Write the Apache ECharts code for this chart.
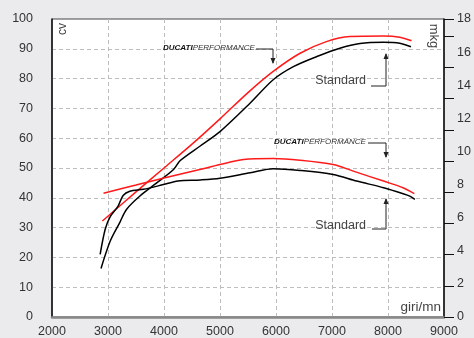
<!DOCTYPE html>
<html>
<head>
<meta charset="utf-8">
<script src="https://cdn.jsdelivr.net/npm/echarts@6/dist/echarts.min.js"></script>
<style>
  html, body { margin: 0; padding: 0; background: #ebebed; }
  #chart { width: 474px; height: 338px; }
</style>
</head>
<body>
<div id="chart"></div>
<script>
// rpm ticks and axis ranges
const rpmTicks = [2000, 3000, 4000, 5000, 6000, 7000, 8000, 9000];
const cvTicks = [0, 10, 20, 30, 40, 50, 60, 70, 80, 90, 100];
const mkgTicks = [0, 2, 4, 6, 8, 10, 12, 14, 16, 18];

// power (cv) - [rpm, cv]
const perfPower = [[2900, 32.2], [3500, 42], [4000, 50], [4500, 58], [5000, 66.5], [5500, 75.3],
    [5950, 82.4], [6430, 88.5], [6900, 92.4], [7320, 94.1], [7920, 94.3], [8210, 93.9], [8420, 92.7]];
const stdPower = [[2875, 16.3], [3040, 25.5], [3210, 31.7], [3330, 36.1], [3570, 40.6], [3870, 45], [4170, 49.5],
    [4290, 52.5], [4640, 57.3], [5000, 62.2], [5540, 71.8], [5950, 79.6], [6310, 84],
    [6730, 87.4], [7140, 90.2], [7500, 91.8], [7920, 92.2], [8210, 91.9], [8410, 90.7]];

// torque (mkg) - [rpm, mkg]
const perfTorque = [[2920, 7.48], [3500, 7.97], [4000, 8.4], [4640, 8.91], [5000, 9.21], [5420, 9.51], [5950, 9.57],
    [6430, 9.47], [7020, 9.21], [7380, 8.81], [7920, 8.21], [8270, 7.81], [8470, 7.45]];
const stdTorque = [[2860, 3.79], [2950, 5.3], [3040, 6.06], [3180, 6.7], [3270, 7.34], [3390, 7.6], [3630, 7.71],
    [3990, 8.0], [4250, 8.22], [4650, 8.28], [5000, 8.38], [5540, 8.71], [5950, 8.95], [6430, 8.85], [7020, 8.61],
    [7440, 8.21], [7920, 7.81], [8270, 7.45], [8390, 7.3], [8480, 7.1]];

const font = 'Liberation Sans, Arial, sans-serif';
const dashed = {show: true, showMinLine: false, showMaxLine: false, lineStyle: {color: '#bdbdbd', type: [4, 3], width: 1}};

var myChart = echarts.init(document.getElementById('chart'), null, {renderer: 'canvas'});

function lineSeries(name, data, color, axis) {
    return {
        name: name,
        type: 'line',
        yAxisIndex: axis,
        data: data,
        symbol: 'none',
        smooth: 0.3,
        lineStyle: {color: color, width: 1.5},
        z: 5
    };
}

function ducatiText(x, y) {
    return {
        type: 'text', left: x, top: y - 5,
        style: {
            text: '{b|DUCATI}{n|PERFORMANCE}',
            rich: {
                b: {fontFamily: font, fontSize: 8, fontWeight: 'bold', fontStyle: 'italic', fill: '#111'},
                n: {fontFamily: font, fontSize: 8, fontStyle: 'italic', fill: '#333'}
            }
        },
        z: 20
    };
}

function pointer(points, up) {
    const end = points[points.length - 1];
    const ax = end[0], ay = end[1];
    const head = up ? [[ax - 2.5, ay + 5], [ax + 2.5, ay + 5], [ax, ay - 1]]
        : [[ax - 2.5, ay - 5], [ax + 2.5, ay - 5], [ax, ay + 1]];
    return [
        {type: 'polyline', shape: {points: points}, style: {stroke: '#222', lineWidth: 1, fill: null}, z: 20},
        {type: 'polygon', shape: {points: head}, style: {fill: '#222'}, z: 20}
    ];
}

function stdText(right, y) {
    return {
        type: 'text', x: right, y: y,
        style: {text: 'Standard', fontFamily: font, fontSize: 12.5, fill: '#444', align: 'right', verticalAlign: 'middle'},
        z: 20
    };
}

var option = {
    animation: false,
    backgroundColor: '#ebebed',
    grid: {
        left: 52, right: 30, top: 19, bottom: 20,
        show: true, backgroundColor: '#fff', borderColor: '#444', borderWidth: 1
    },
    xAxis: {
        type: 'value',
        min: rpmTicks[0], max: rpmTicks[rpmTicks.length - 1], interval: 1000,
        axisLine: {show: true, lineStyle: {color: '#888', width: 2.5}},
        axisTick: {show: false},
        axisLabel: {color: '#333', fontFamily: font, fontSize: 12.5, margin: 8, formatter: v => String(v)},
        splitLine: dashed
    },
    yAxis: [
        {
            type: 'value', position: 'left',
            min: cvTicks[0], max: cvTicks[cvTicks.length - 1], interval: 10,
            axisLine: {show: true, lineStyle: {color: '#111', width: 1.5}},
            axisTick: {show: false},
            axisLabel: {color: '#333', fontFamily: font, fontSize: 12.5, margin: 19},
            splitLine: dashed
        },
        {
            type: 'value', position: 'right',
            min: mkgTicks[0], max: mkgTicks[mkgTicks.length - 1], interval: 2,
            axisLine: {show: true, lineStyle: {color: '#111', width: 1.5}},
            axisTick: {show: false},
            axisLabel: {color: '#333', fontFamily: font, fontSize: 12.5, margin: 13},
            splitLine: {show: false}
        },
        {
            // tick marks of the mkg scale, printed slightly off the labels
            type: 'value', position: 'right',
            min: 0, max: 19.1, interval: 2,
            axisLine: {show: false},
            axisTick: {show: true, length: 10, lineStyle: {color: '#111', width: 1}},
            axisLabel: {show: false},
            splitLine: {show: false}
        }
    ],
    series: [
        lineSeries('DUCATI PERFORMANCE cv', perfPower, '#ff1a1a', 0),
        lineSeries('Standard cv', stdPower, '#000', 0),
        lineSeries('DUCATI PERFORMANCE mkg', perfTorque, '#ff1a1a', 1),
        lineSeries('Standard mkg', stdTorque, '#000', 1)
    ],
    graphic: [
        {type: 'text', x: 63, y: 29, rotation: Math.PI / 2,
            style: {text: 'cv', fontFamily: font, fontSize: 12, fill: '#444', align: 'center', verticalAlign: 'middle'}, z: 20},
        {type: 'text', x: 434, y: 36, rotation: -Math.PI / 2,
            style: {text: 'mkg', fontFamily: font, fontSize: 13, fill: '#444', align: 'center', verticalAlign: 'middle'}, z: 20},
        {type: 'text', x: 441, y: 307,
            style: {text: 'giri/mn', fontFamily: font, fontSize: 13.5, fill: '#444', align: 'right', verticalAlign: 'middle'}, z: 20},
        ducatiText(163, 49),
        ...pointer([[256, 49], [273, 49], [273, 63]], false),
        ducatiText(274, 143),
        ...pointer([[368, 143], [386, 143], [386, 157]], false),
        stdText(366, 81),
        ...pointer([[371, 86], [386, 86], [386, 54]], true),
        stdText(366, 226),
        ...pointer([[372, 229], [386, 229], [386, 199]], true)
    ]
};

myChart.setOption(option);
</script>
</body>
</html>
